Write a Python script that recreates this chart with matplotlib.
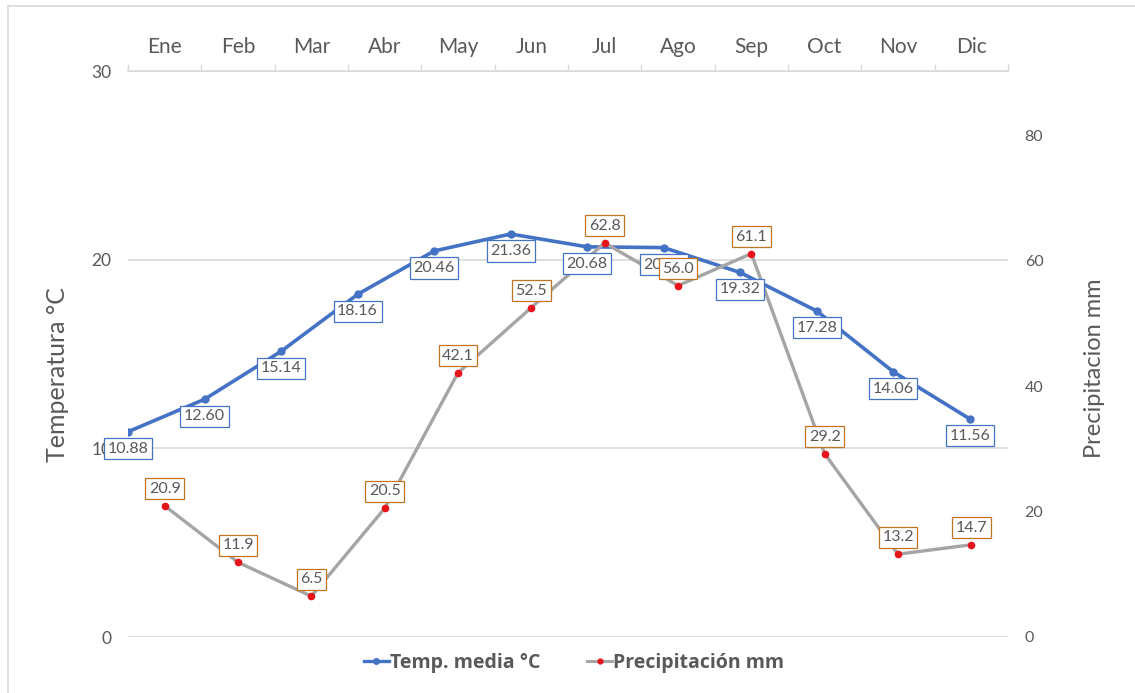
import matplotlib.pyplot as plt
from matplotlib.patches import Rectangle
from matplotlib.lines import Line2D

# monthly climate data
MONTHS = ["Ene", "Feb", "Mar", "Abr", "May", "Jun", "Jul", "Ago", "Sep", "Oct", "Nov", "Dic"]
TEMP = [10.88, 12.60, 15.14, 18.16, 20.46, 21.36, 20.68, 20.64, 19.32, 17.28, 14.06, 11.56]
PRECIP = [20.9, 11.9, 6.5, 20.5, 42.1, 52.5, 62.8, 56.0, 61.1, 29.2, 13.2, 14.7]
TEMP_TICKS = [0, 10, 20, 30]
PRECIP_TICKS = [0, 20, 40, 60, 80]

BLUE = "#4472C4"
GREY_LINE = "#A5A5A5"
RED = "#E8141B"
ORANGE = "#C5731F"
TEXT = "#595959"
GRID = "#D9D9D9"

plt.rcParams["font.family"] = ["Lato", "DejaVu Sans"]

W, H = 1135, 693
fig = plt.figure(figsize=(W / 100, H / 100), dpi=100)
pos = [128 / W, 1 - 637 / H, (1008 - 128) / W, (637 - 71) / H]

# outer chart frame (light grey, only top/left visible)
fig.patches.append(Rectangle((8 / W, -0.1), 1.2, 1 - 6 / H + 0.1, transform=fig.transFigure,
                             fill=False, edgecolor=GRID, linewidth=1.2))

# temperature axis (primary)
ax_t = fig.add_axes(pos)
ax_t.set_xlim(0, 11.5)
ax_t.set_ylim(0, 30)
ax_t.set_yticks(TEMP_TICKS)
ax_t.tick_params(axis="y", length=0, pad=12, labelsize=12.5, labelcolor=TEXT)
ax_t.set_xticks([])
for s in ax_t.spines.values():
    s.set_visible(False)
ax_t.grid(axis="y", color=GRID, linewidth=1.2)
ax_t.set_axisbelow(True)
ax_t.plot(range(len(TEMP)), TEMP, color=BLUE, linewidth=2.6, marker="o", markersize=5,
          solid_capstyle="round", zorder=3)
ax_t.set_ylabel("Temperatura °C", fontsize=18, color=TEXT)
ax_t.yaxis.set_label_coords(-0.067, 0.463)

# precipitation axis (secondary, categories on top)
ax_p = fig.add_axes(pos)
ax_p.patch.set_visible(False)
ax_p.set_xlim(-0.5, len(MONTHS) - 0.5)
ax_p.set_ylim(0, 90.2)
ax_p.yaxis.tick_right()
ax_p.yaxis.set_label_position("right")
ax_p.set_yticks(PRECIP_TICKS)
ax_p.tick_params(axis="y", length=0, pad=12, labelsize=11.5, labelcolor=TEXT)
ax_p.xaxis.tick_top()
ax_p.set_xticks(range(len(MONTHS)))
ax_p.set_xticklabels(MONTHS)
ax_p.set_xticks([i - 0.5 for i in range(len(MONTHS) + 1)], minor=True)
ax_p.tick_params(axis="x", which="major", length=0, pad=10, labelsize=15, labelcolor=TEXT)
ax_p.tick_params(axis="x", which="minor", length=5, width=1, color=GRID, direction="out")
for side in ("left", "right", "bottom"):
    ax_p.spines[side].set_visible(False)
ax_p.spines["top"].set_color(GRID)
ax_p.spines["top"].set_linewidth(1.2)
ax_p.plot(range(len(PRECIP)), PRECIP, color=GREY_LINE, linewidth=2.4,
          marker="o", markersize=4.5, markerfacecolor=RED, markeredgecolor=RED, zorder=3)
ax_p.set_ylabel("Precipitacion mm", fontsize=17, color=TEXT)
ax_p.yaxis.set_label_coords(1.086, 0.475)

# data labels, drawn on top of both lines
box_kw = dict(boxstyle="square,pad=0.22", facecolor="white", linewidth=0.9)
for i, v in enumerate(TEMP):
    ax_p.annotate(f"{v:.2f}", xy=(i, v), xycoords=ax_t.transData, xytext=(0, -17),
                  textcoords="offset pixels", ha="center", va="center", fontsize=11.5,
                  color=TEXT, bbox=dict(edgecolor=BLUE, **box_kw), zorder=10,
                  annotation_clip=False)
for i, v in enumerate(PRECIP):
    ax_p.annotate(f"{v:.1f}", xy=(i, v), xytext=(0, 17), textcoords="offset pixels",
                  ha="center", va="center", fontsize=11.5, color=TEXT,
                  bbox=dict(edgecolor=ORANGE, **box_kw), zorder=11, annotation_clip=False)

# legend at the bottom
handles = [
    Line2D([], [], color=BLUE, linewidth=2.4, marker="o", markersize=4),
    Line2D([], [], color=GREY_LINE, linewidth=2.2, marker="o", markersize=3.5,
           markerfacecolor=RED, markeredgecolor=RED),
]
fig.legend(handles, ["Temp. media °C", "Precipitación mm"], loc="center",
           bbox_to_anchor=(574 / W, 1 - 663 / H), ncol=2, frameon=False,
           handlelength=1.3, handletextpad=0.05, columnspacing=2.4,
           prop={"family": ["Open Sans", "DejaVu Sans"], "weight": "bold", "size": 14},
           labelcolor=TEXT)

fig.savefig("out.png", dpi=100)
